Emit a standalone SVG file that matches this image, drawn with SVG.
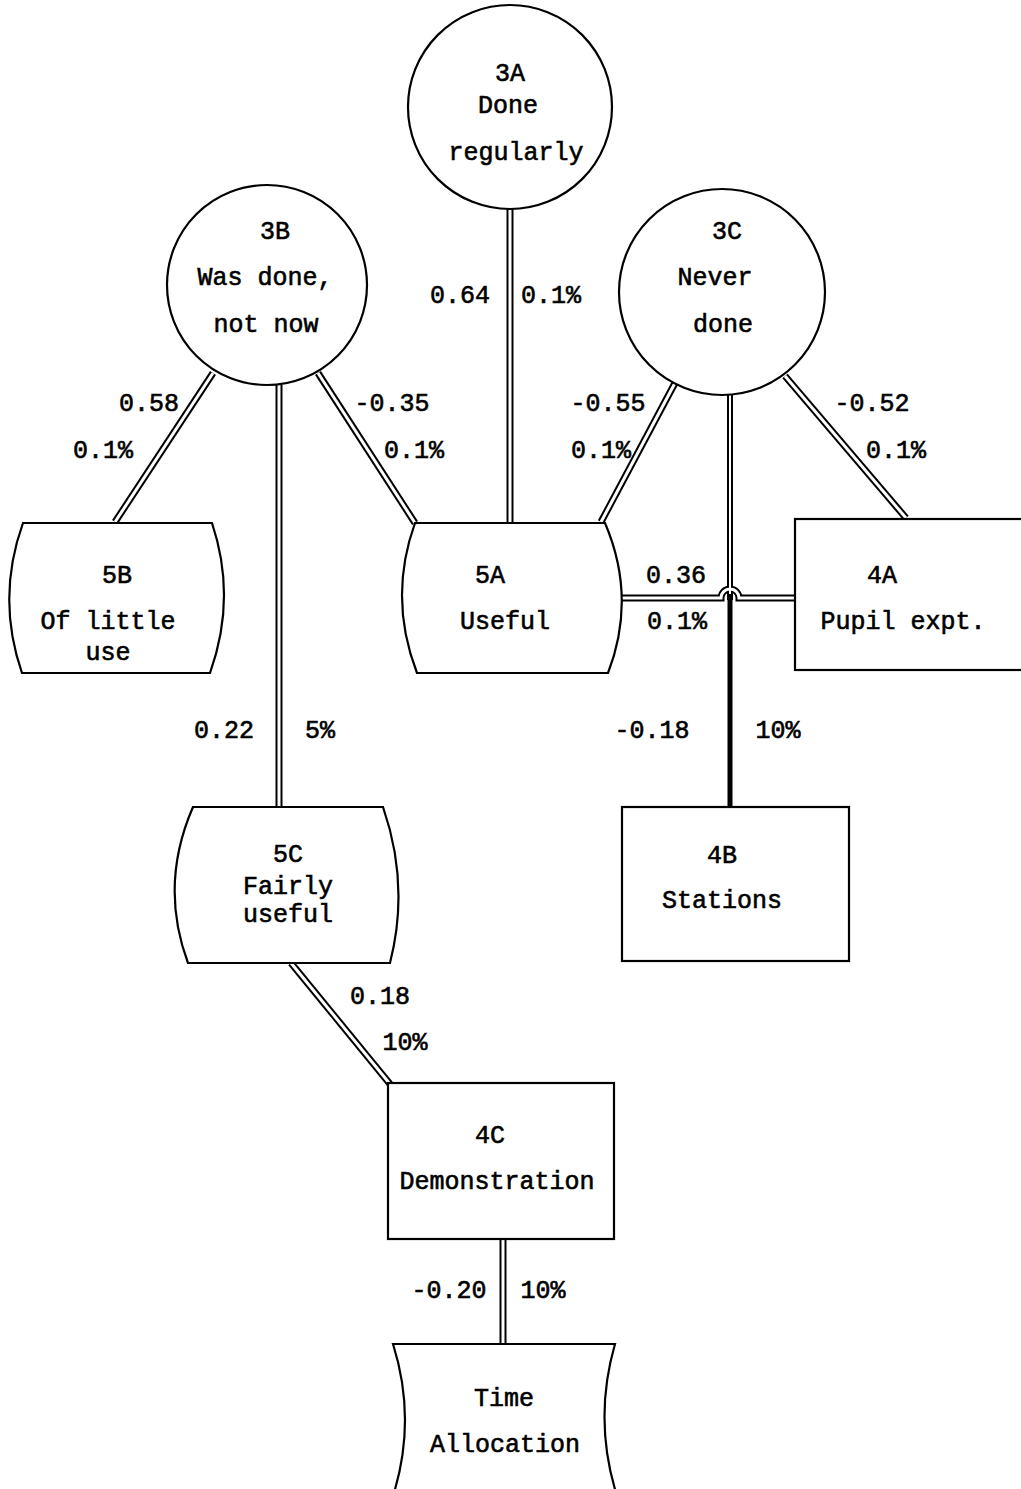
<svg xmlns="http://www.w3.org/2000/svg" width="1021" height="1489" viewBox="0 0 1021 1489">
<style>
.shape{fill:none;stroke:#000;stroke-width:2.2}
.t{font-family:"Liberation Mono","DejaVu Sans Mono",monospace;font-size:25px;fill:#000;stroke:#000;stroke-width:0.6;text-anchor:middle}
.ob{fill:none;stroke:#000;stroke-width:7}
.iw{fill:none;stroke:#fff;stroke-width:3}
.bold{fill:none;stroke:#000;stroke-width:5}
</style>
<rect width="1021" height="1489" fill="#fff"/>
<g id="connectors">
  <g class="ob">
    <path d="M510,209 L510,522"/>
    <path d="M213,373 L115,522"/>
    <path d="M318,373 L415,523"/>
    <path d="M279,385 L279,807"/>
    <path d="M675,383 L601,522"/>
    <path d="M785,376 L906,518"/>
    <path d="M730,395 L730,600" style="stroke-width:6"/>
    <path d="M622,598 L721,598 A9,9 0 0 1 739,598 L795,598"/>
    <path d="M291,963 L390,1084"/>
    <path d="M503,1239 L503,1344"/>
  </g>
  <g class="iw">
    <path d="M510,205 L510,526"/>
    <path d="M213,373 L115,522"/>
    <path d="M318,373 L415,523"/>
    <path d="M279,385 L279,807"/>
    <path d="M675,383 L601,522"/>
    <path d="M785,376 L906,518"/>
    <path d="M730,395 L730,594" style="stroke-width:2"/>
    <path d="M619,598 L721,598 A9,9 0 0 1 739,598 L798,598"/>
    <path d="M291,963 L390,1084"/>
    <path d="M503,1235 L503,1348"/>
  </g>
  <path class="bold" d="M730,594 L730,807"/>
</g>
<g id="n3A">
  <circle class="shape" cx="510" cy="107" r="102" style="fill:#fff"/>
  <text class="t" x="510" y="81">3A</text>
  <text class="t" x="508" y="113">Done</text>
  <text class="t" x="516" y="160">regularly</text>
</g>
<g id="n3B">
  <circle class="shape" cx="267" cy="285" r="100" style="fill:#fff"/>
  <text class="t" x="275" y="239">3B</text>
  <text class="t" x="265" y="285">Was done,</text>
  <text class="t" x="266" y="332">not now</text>
</g>
<g id="n3C">
  <circle class="shape" cx="722" cy="292" r="103" style="fill:#fff"/>
  <text class="t" x="727" y="239">3C</text>
  <text class="t" x="715" y="285">Never</text>
  <text class="t" x="723" y="332">done</text>
</g>
<g id="n5B">
  <path class="shape" style="fill:#fff" d="M23,523 L212,523 Q237,598 210,673 L22,673 Q-4,598 23,523 Z"/>
  <text class="t" x="117" y="583">5B</text>
  <text class="t" x="108" y="629">Of little</text>
  <text class="t" x="108" y="660">use</text>
</g>
<g id="n5A">
  <path class="shape" style="fill:#fff" d="M415,523 L605,523 Q637,598 608,673 L417,673 Q388,598 415,523 Z"/>
  <text class="t" x="490" y="583">5A</text>
  <text class="t" x="505" y="629">Useful</text>
</g>
<g id="n4A">
  <rect class="shape" style="fill:#fff" x="795" y="519" width="240" height="151"/>
  <text class="t" x="882" y="583">4A</text>
  <text class="t" x="903" y="629">Pupil expt.</text>
</g>
<g id="n5C">
  <path class="shape" style="fill:#fff" d="M193,807 L383,807 Q410,885 390,963 L188,963 Q159,885 193,807 Z"/>
  <text class="t" x="288" y="862">5C</text>
  <text class="t" x="288" y="894">Fairly</text>
  <text class="t" x="288" y="922">useful</text>
</g>
<g id="n4B">
  <rect class="shape" style="fill:#fff" x="622" y="807" width="227" height="154"/>
  <text class="t" x="722" y="863">4B</text>
  <text class="t" x="722" y="908">Stations</text>
</g>
<g id="n4C">
  <rect class="shape" style="fill:#fff" x="388" y="1083" width="226" height="156"/>
  <text class="t" x="490" y="1143">4C</text>
  <text class="t" x="497" y="1189">Demonstration</text>
</g>
<g id="nTime">
  <path class="shape" style="fill:#fff" d="M393,1344 L615,1344 Q593,1420 617,1496 L393,1496 Q417,1420 393,1344 Z"/>
  <text class="t" x="504" y="1406">Time</text>
  <text class="t" x="505" y="1452">Allocation</text>
</g>
<g id="labels">
  <text class="t" x="460" y="303">0.64</text>
  <text class="t" x="551" y="303">0.1%</text>
  <text class="t" x="149" y="411">0.58</text>
  <text class="t" x="103" y="458">0.1%</text>
  <text class="t" x="392" y="411">-0.35</text>
  <text class="t" x="414" y="458">0.1%</text>
  <text class="t" x="608" y="411">-0.55</text>
  <text class="t" x="601" y="458">0.1%</text>
  <text class="t" x="872" y="411">-0.52</text>
  <text class="t" x="896" y="458">0.1%</text>
  <text class="t" x="676" y="583">0.36</text>
  <text class="t" x="677" y="629">0.1%</text>
  <text class="t" x="224" y="738">0.22</text>
  <text class="t" x="320" y="738">5%</text>
  <text class="t" x="652" y="738">-0.18</text>
  <text class="t" x="778" y="738">10%</text>
  <text class="t" x="380" y="1004">0.18</text>
  <text class="t" x="405" y="1050">10%</text>
  <text class="t" x="449" y="1298">-0.20</text>
  <text class="t" x="543" y="1298">10%</text>
</g>
</svg>
